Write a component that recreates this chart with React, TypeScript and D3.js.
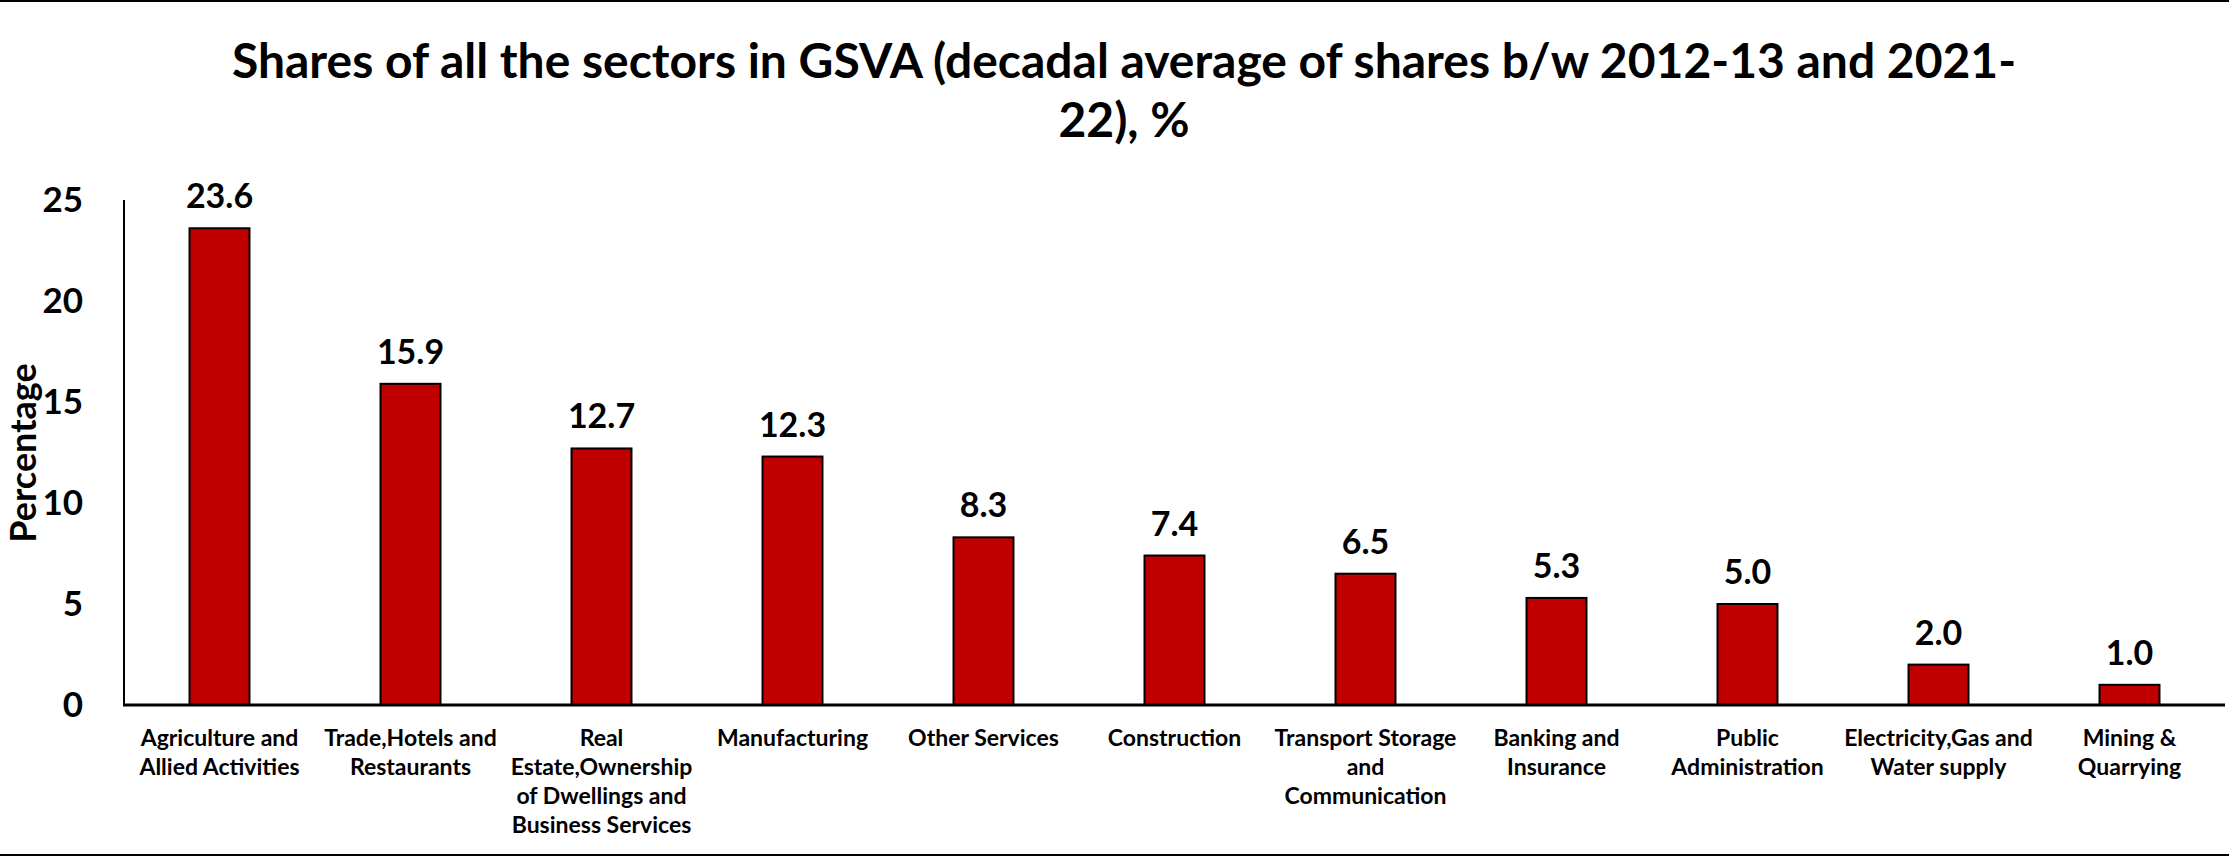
import React from "react";
import * as d3 from "d3";

const categories: string[] = [
  "Agriculture and\nAllied Activities",
  "Trade,Hotels and\nRestaurants",
  "Real\nEstate,Ownership\nof Dwellings and\nBusiness Services",
  "Manufacturing",
  "Other Services",
  "Construction",
  "Transport Storage\nand\nCommunication",
  "Banking and\nInsurance",
  "Public\nAdministration",
  "Electricity,Gas and\nWater supply",
  "Mining &\nQuarrying",
];
const shares: number[] = [23.6, 15.9, 12.7, 12.3, 8.3, 7.4, 6.5, 5.3, 5.0, 2.0, 1.0];
const yTicks: number[] = [0, 5, 10, 15, 20, 25];
const titleLines: string[] = [
  "Shares of all the sectors in GSVA (decadal average of shares b/w 2012-13 and 2021-",
  "22), %",
];
const yLabel = "Percentage";

const W = 2229;
const H = 856;
const FONT = "Lato, Carlito, 'Open Sans', sans-serif";

export default function App() {
  const x = d3
    .scaleBand<number>()
    .domain(d3.range(categories.length))
    .range([124, 2225])
    .paddingInner(0.686)
    .paddingOuter(0.343);
  const y = d3.scaleLinear().domain([0, 25]).range([705, 200]);

  return (
    <svg
      width={W}
      height={H}
      style={{ position: "absolute", left: 0, top: 0, background: "#fff" }}
      fontFamily={FONT}
    >
      <rect x={0} y={0} width={W} height={H} fill="#fff" />
      <line x1={0} x2={W} y1={1} y2={1} stroke="#000" strokeWidth={2} />
      <line x1={0} x2={W} y1={855} y2={855} stroke="#000" strokeWidth={2} />

      {titleLines.map((t, i) => (
        <text
          key={i}
          x={1124}
          y={78 + i * 59}
          textAnchor="middle"
          fontSize={48}
          fontWeight={700}
          fill="#000"
        >
          {t}
        </text>
      ))}

      {/* bars */}
      {shares.map((v, i) => (
        <rect
          key={i}
          x={x(i)}
          y={y(v)}
          width={x.bandwidth()}
          height={y(0) - y(v)}
          fill="#C00000"
          stroke="#000"
          strokeWidth={2}
        />
      ))}

      {/* value labels */}
      {shares.map((v, i) => (
        <text
          key={i}
          x={(x(i) as number) + x.bandwidth() / 2}
          y={y(v) - 20}
          textAnchor="middle"
          fontSize={34}
          fontWeight={700}
          fill="#000"
        >
          {d3.format(".1f")(v)}
        </text>
      ))}

      {/* axes */}
      <line x1={124} x2={124} y1={y(25)} y2={y(0)} stroke="#000" strokeWidth={2} />
      <line x1={123} x2={2225} y1={y(0)} y2={y(0)} stroke="#000" strokeWidth={3} />

      {yTicks.map((t) => (
        <text
          key={t}
          x={83}
          y={y(t)}
          dy="0.35em"
          textAnchor="end"
          fontSize={35}
          fontWeight={700}
          fill="#000"
        >
          {t}
        </text>
      ))}

      <text
        transform={`translate(36,453) rotate(-90)`}
        textAnchor="middle"
        fontSize={36}
        fontWeight={700}
        fill="#000"
      >
        {yLabel}
      </text>

      {categories.map((c, i) => (
        <text
          key={i}
          x={(x(i) as number) + x.bandwidth() / 2}
          y={746}
          textAnchor="middle"
          fontSize={23}
          fontWeight={700}
          fill="#000"
        >
          {c.split("\n").map((ln, j) => (
            <tspan key={j} x={(x(i) as number) + x.bandwidth() / 2} dy={j === 0 ? 0 : 29}>
              {ln}
            </tspan>
          ))}
        </text>
      ))}
    </svg>
  );
}
